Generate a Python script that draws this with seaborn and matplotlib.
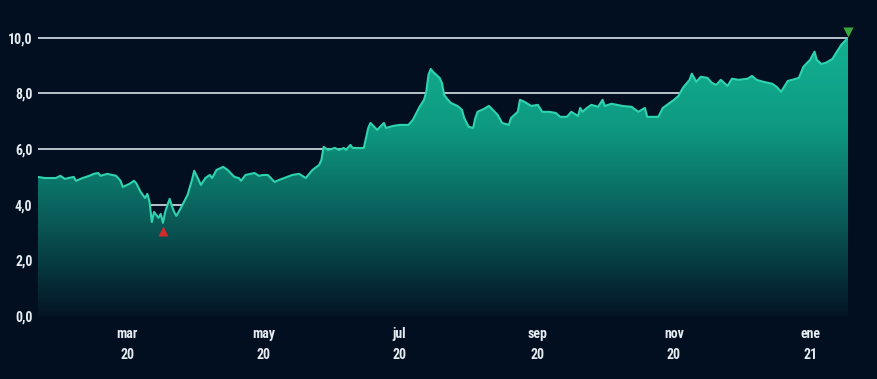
import numpy as np
import pandas as pd
import matplotlib
matplotlib.use("Agg")
import matplotlib.pyplot as plt
import matplotlib.dates as mdates
from matplotlib.colors import LinearSegmentedColormap
from matplotlib import font_manager
import seaborn as sns

# price series (approx.)
dates = [
    "2020-01-21", "2020-01-24", "2020-01-29", "2020-01-31", "2020-02-02", "2020-02-06",
    "2020-02-07", "2020-02-10", "2020-02-13", "2020-02-15", "2020-02-17", "2020-02-18",
    "2020-02-21", "2020-02-25", "2020-02-27", "2020-02-28", "2020-03-02", "2020-03-04",
    "2020-03-05", "2020-03-07", "2020-03-09", "2020-03-10", "2020-03-11", "2020-03-12",
    "2020-03-13", "2020-03-15", "2020-03-16", "2020-03-17", "2020-03-18", "2020-03-19",
    "2020-03-20", "2020-03-21", "2020-03-22", "2020-03-23", "2020-03-25", "2020-03-28",
    "2020-03-30", "2020-03-31", "2020-04-02", "2020-04-03", "2020-04-05", "2020-04-07",
    "2020-04-08", "2020-04-10", "2020-04-13", "2020-04-15", "2020-04-18", "2020-04-20",
    "2020-04-21", "2020-04-23", "2020-04-27", "2020-04-29", "2020-05-01", "2020-05-03",
    "2020-05-06", "2020-05-08", "2020-05-14", "2020-05-17", "2020-05-20", "2020-05-23",
    "2020-05-26", "2020-05-27", "2020-05-28", "2020-05-30", "2020-06-02", "2020-06-04",
    "2020-06-06", "2020-06-07", "2020-06-09", "2020-06-10", "2020-06-15", "2020-06-17",
    "2020-06-18", "2020-06-21", "2020-06-24", "2020-06-25", "2020-06-28", "2020-07-01",
    "2020-07-05", "2020-07-07", "2020-07-10", "2020-07-12", "2020-07-13", "2020-07-14",
    "2020-07-15", "2020-07-16", "2020-07-19", "2020-07-20", "2020-07-21", "2020-07-22",
    "2020-07-24", "2020-07-27", "2020-07-29", "2020-07-30", "2020-08-01", "2020-08-03",
    "2020-08-04", "2020-08-05", "2020-08-08", "2020-08-10", "2020-08-11", "2020-08-14",
    "2020-08-16", "2020-08-19", "2020-08-20", "2020-08-23", "2020-08-24", "2020-08-26",
    "2020-08-29", "2020-09-01", "2020-09-03", "2020-09-06", "2020-09-09", "2020-09-11",
    "2020-09-14", "2020-09-16", "2020-09-19", "2020-09-20", "2020-09-21", "2020-09-23",
    "2020-09-25", "2020-09-28", "2020-09-30", "2020-10-01", "2020-10-04", "2020-10-09",
    "2020-10-13", "2020-10-16", "2020-10-19", "2020-10-20", "2020-10-25", "2020-10-27",
    "2020-11-01", "2020-11-03", "2020-11-05", "2020-11-08", "2020-11-09", "2020-11-11",
    "2020-11-13", "2020-11-16", "2020-11-18", "2020-11-20", "2020-11-22", "2020-11-25",
    "2020-11-27", "2020-11-30", "2020-12-04", "2020-12-06", "2020-12-08", "2020-12-11",
    "2020-12-15", "2020-12-17", "2020-12-19", "2020-12-22", "2020-12-24", "2020-12-27",
    "2020-12-29", "2021-01-01", "2021-01-03", "2021-01-04", "2021-01-06", "2021-01-08",
    "2021-01-11", "2021-01-13", "2021-01-15", "2021-01-18",
]
prices = [
    5.00, 4.96, 4.96, 5.04, 4.93, 5.00,
    4.86, 4.96, 5.04, 5.11, 5.14, 5.04,
    5.11, 5.04, 4.86, 4.64, 4.75, 4.86,
    4.78, 4.46, 4.24, 4.39, 4.10, 3.38,
    3.74, 3.53, 3.67, 3.35, 3.74, 3.99,
    4.21, 3.96, 3.74, 3.60, 3.88, 4.35,
    4.89, 5.22, 4.89, 4.71, 4.96, 5.07,
    4.96, 5.25, 5.36, 5.25, 5.00, 4.96,
    4.86, 5.07, 5.14, 5.04, 5.07, 5.07,
    4.82, 4.89, 5.07, 5.11, 4.96, 5.25,
    5.43, 5.61, 6.08, 5.97, 6.04, 5.97,
    6.04, 5.97, 6.15, 6.04, 6.04, 6.76,
    6.94, 6.69, 6.94, 6.76, 6.83, 6.87,
    6.87, 7.05, 7.52, 7.77, 8.06, 8.67,
    8.88, 8.78, 8.56, 8.38, 7.95, 7.84,
    7.66, 7.55, 7.41, 7.12, 6.80, 6.76,
    7.12, 7.34, 7.45, 7.55, 7.48, 7.23,
    6.94, 6.87, 7.12, 7.34, 7.77, 7.70,
    7.55, 7.59, 7.34, 7.34, 7.30, 7.16,
    7.16, 7.34, 7.19, 7.48, 7.34, 7.48,
    7.59, 7.52, 7.77, 7.55, 7.63, 7.55,
    7.52, 7.34, 7.48, 7.16, 7.16, 7.48,
    7.77, 7.91, 8.20, 8.49, 8.71, 8.42,
    8.60, 8.56, 8.38, 8.31, 8.49, 8.27,
    8.53, 8.49, 8.53, 8.63, 8.49, 8.42,
    8.35, 8.24, 8.06, 8.45, 8.49, 8.56,
    8.96, 9.21, 9.50, 9.21, 9.06, 9.10,
    9.24, 9.50, 9.75, 10.00,
]
month_ticks = ["2020-03-01", "2020-05-01", "2020-07-01", "2020-09-01", "2020-11-01", "2021-01-01"]
month_labels = ["mar\n20", "may\n20", "jul\n20", "sep\n20", "nov\n20", "ene\n21"]
y_ticks = [0, 2, 4, 6, 8, 10]

df = pd.DataFrame({"fecha": pd.to_datetime(dates), "precio": prices})

bg = "#020f20"
sns.set_style("dark", {"axes.facecolor": bg, "figure.facecolor": bg})

# narrow font if one is around, otherwise DejaVu
installed = {f.name for f in font_manager.fontManager.ttflist}
fams = [f for f in ["Liberation Sans Narrow", "DejaVu Sans Condensed", "Roboto Condensed"]
        if f in installed]
plt.rcParams["font.family"] = fams + ["DejaVu Sans"]
lab_size = 10 if fams else 9

fig = plt.figure(figsize=(8.78, 3.79), dpi=100)
ax = fig.add_axes([38 / 878, 1 - 316 / 379, 810 / 878, 306 / 379])
ax.set_facecolor(bg)

x0, x1 = df["fecha"].min(), df["fecha"].max()
ax.set_xlim(x0, x1)
ax.set_ylim(0, 11)

# grid lines underneath the area
for v in y_ticks:
    ax.axhline(v, color="#c9d2dc", lw=1.3, zorder=1)

# gradient fill clipped to the area under the curve
xs = mdates.date2num(df["fecha"])
poly = ax.fill_between(xs, 0, df["precio"], color="none", lw=0, zorder=2)
cmap = LinearSegmentedColormap.from_list("g", ["#031425", "#0a5a58", "#0e9a82", "#13b294"])
grad = np.linspace(0, 1, 256).reshape(-1, 1)
img = ax.imshow(grad, cmap=cmap, aspect="auto", origin="lower",
                extent=[xs[0], xs[-1], 0, 10.2], zorder=2)
clip = poly.get_paths()[0]
img.set_clip_path(clip, transform=ax.transData)

sns.lineplot(data=df, x="fecha", y="precio", ax=ax, color="#2fd3ae", lw=1.5, zorder=3)

# min / max markers
imin = int(np.argmin(prices))
imax = int(np.argmax(prices))
ax.plot(df["fecha"][imin], prices[imin] - 0.28, marker="^", ms=7, color="#d42a2a",
        mec="none", zorder=4, clip_on=False)
ax.plot(df["fecha"][imax], prices[imax] + 0.2, marker="v", ms=7, color="#3aa83a",
        mec="none", zorder=4, clip_on=False)

ax.set_yticks(y_ticks)
ax.set_yticklabels([f"{v:.1f}".replace(".", ",") for v in y_ticks])
ax.set_xticks(pd.to_datetime(month_ticks))
ax.set_xticklabels(month_labels, linespacing=1.6)
ax.tick_params(axis="both", length=0, colors="#e6ebf0", labelsize=lab_size)
ax.tick_params(axis="y", pad=4)
ax.tick_params(axis="x", pad=8)
for lab in ax.get_xticklabels() + ax.get_yticklabels():
    lab.set_fontweight("bold")
ax.set_xlabel("")
ax.set_ylabel("")
ax.grid(False)
for s in ax.spines.values():
    s.set_visible(False)

fig.savefig("out.png", dpi=100, facecolor=bg)
